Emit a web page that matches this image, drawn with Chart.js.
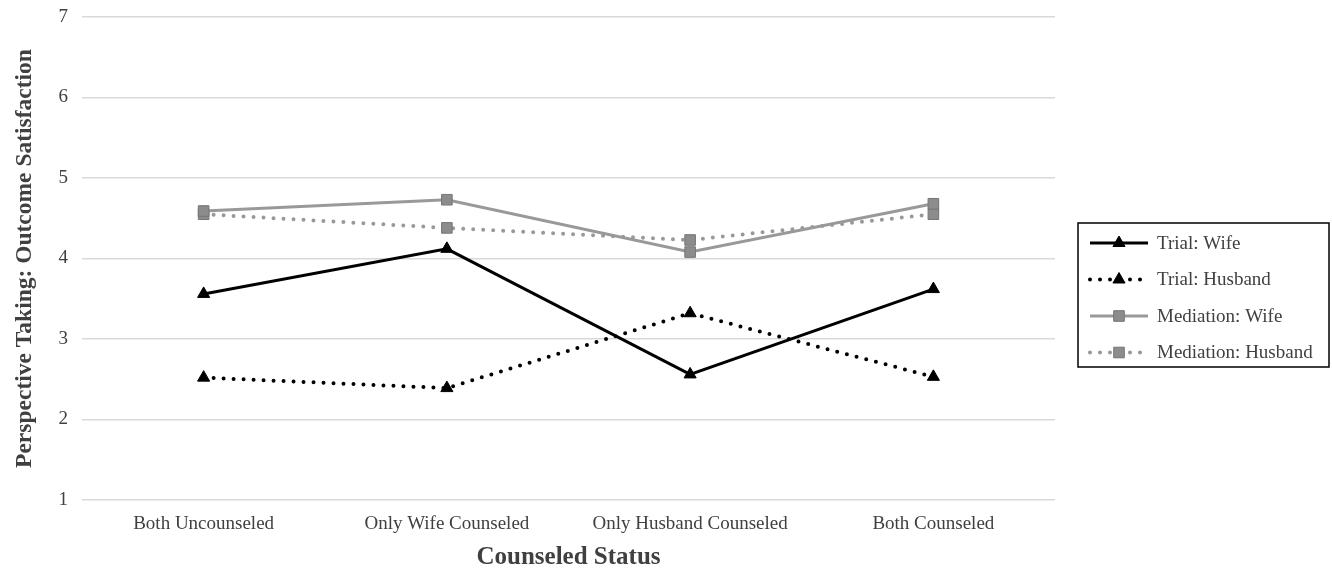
<!DOCTYPE html>
<html>
<head>
<meta charset="utf-8">
<script src="https://cdn.jsdelivr.net/npm/chart.js@4"></script>
<style>
  html, body { margin: 0; padding: 0; background: #fff; }
  #wrap { width: 1332px; height: 571px; }
</style>
</head>
<body>
<div id="wrap"><canvas id="chart"></canvas></div>
<script>
const categories = ["Both Uncounseled", "Only Wife Counseled", "Only Husband Counseled", "Both Counseled"];
const trialWife = [3.56, 4.12, 2.56, 3.62];
const trialHusband = [2.52, 2.39, 3.32, 2.53];
const mediationWife = [4.59, 4.73, 4.08, 4.68];
const mediationHusband = [4.55, 4.38, 4.23, 4.55];

const FONT = "'Liberation Serif', 'Times New Roman', serif";

// legend drawn by hand: line sample with marker in the middle, framed box
const boxLegend = {
  id: "boxLegend",
  afterDraw(chart) {
    const ctx = chart.ctx;
    const area = chart.chartArea;
    const x0 = area.right + 23, y0 = 223, w = 251, h = 144;
    ctx.save();
    ctx.strokeStyle = "#000";
    ctx.lineWidth = 1.5;
    ctx.strokeRect(x0, y0, w, h);
    chart.data.datasets.forEach((ds, i) => {
      const y = y0 + 20 + i * 36.5;
      ctx.save();
      ctx.strokeStyle = ds.borderColor;
      ctx.lineWidth = ds.borderWidth;
      ctx.lineCap = ds.borderCapStyle || "butt";
      ctx.setLineDash(ds.borderDash || []);
      ctx.beginPath();
      ctx.moveTo(x0 + 12, y);
      ctx.lineTo(x0 + 70, y);
      ctx.stroke();
      ctx.restore();
      ctx.save();
      ctx.fillStyle = ds.pointBackgroundColor;
      ctx.strokeStyle = ds.pointBorderColor;
      ctx.lineWidth = ds.pointBorderWidth;
      Chart.helpers.drawPoint(ctx, { pointStyle: ds.pointStyle, radius: ds.pointRadius, borderWidth: ds.pointBorderWidth, rotation: 0 }, x0 + 41, y);
      ctx.restore();
      ctx.fillStyle = "#404040";
      ctx.font = "19px " + FONT;
      ctx.textBaseline = "middle";
      ctx.fillText(ds.label, x0 + 79, y + 1);
    });
    ctx.restore();
  }
};

new Chart(document.getElementById("chart"), {
  type: "line",
  data: {
    labels: categories,
    datasets: [
      {
        label: "Trial: Wife",
        data: trialWife,
        borderColor: "#000",
        borderWidth: 3,
        pointStyle: "triangle",
        pointRadius: 7,
        pointBackgroundColor: "#000",
        pointBorderColor: "#000",
        pointBorderWidth: 1
      },
      {
        label: "Trial: Husband",
        data: trialHusband,
        borderColor: "#000",
        borderWidth: 4,
        borderDash: [0, 10],
        borderCapStyle: "round",
        pointStyle: "triangle",
        pointRadius: 7,
        pointBackgroundColor: "#000",
        pointBorderColor: "#000",
        pointBorderWidth: 1
      },
      {
        label: "Mediation: Wife",
        data: mediationWife,
        borderColor: "#999999",
        borderWidth: 3,
        pointStyle: "rect",
        pointRadius: 7.5,
        pointBackgroundColor: "#8c8c8c",
        pointBorderColor: "#767676",
        pointBorderWidth: 1
      },
      {
        label: "Mediation: Husband",
        data: mediationHusband,
        borderColor: "#999999",
        borderWidth: 4,
        borderDash: [0, 10],
        borderCapStyle: "round",
        pointStyle: "rect",
        pointRadius: 7.5,
        pointBackgroundColor: "#8c8c8c",
        pointBorderColor: "#767676",
        pointBorderWidth: 1
      }
    ]
  },
  options: {
    responsive: true,
    maintainAspectRatio: false,
    animation: false,
    layout: { padding: { top: 17, right: 277, left: 0, bottom: 0 } },
    plugins: {
      legend: { display: false },
      tooltip: { enabled: false }
    },
    scales: {
      x: {
        offset: true,
        grid: { display: false },
        border: { display: false },
        ticks: { color: "#404040", font: { family: FONT, size: 19 }, padding: 5 },
        title: {
          display: true,
          text: "Counseled Status",
          color: "#404040",
          font: { family: FONT, size: 25, weight: "bold" },
          padding: { top: 0, bottom: -2 }
        },
        afterFit(s) { s.height = 71; }
      },
      y: {
        min: 1,
        max: 7,
        ticks: { stepSize: 1, color: "#404040", font: { family: FONT, size: 19 }, padding: 14 },
        grid: { color: "#d9d9d9", lineWidth: 1.5, drawTicks: false },
        border: { display: false },
        title: {
          display: true,
          text: "Perspective Taking: Outcome Satisfaction",
          color: "#404040",
          font: { family: FONT, size: 23.5, weight: "bold" },
          padding: { bottom: 0, top: 11 }
        },
        afterFit(s) { s.width = 82; s.paddingTop = 0; s.paddingBottom = 0; }
      }
    }
  },
  plugins: [boxLegend]
});
</script>
</body>
</html>
